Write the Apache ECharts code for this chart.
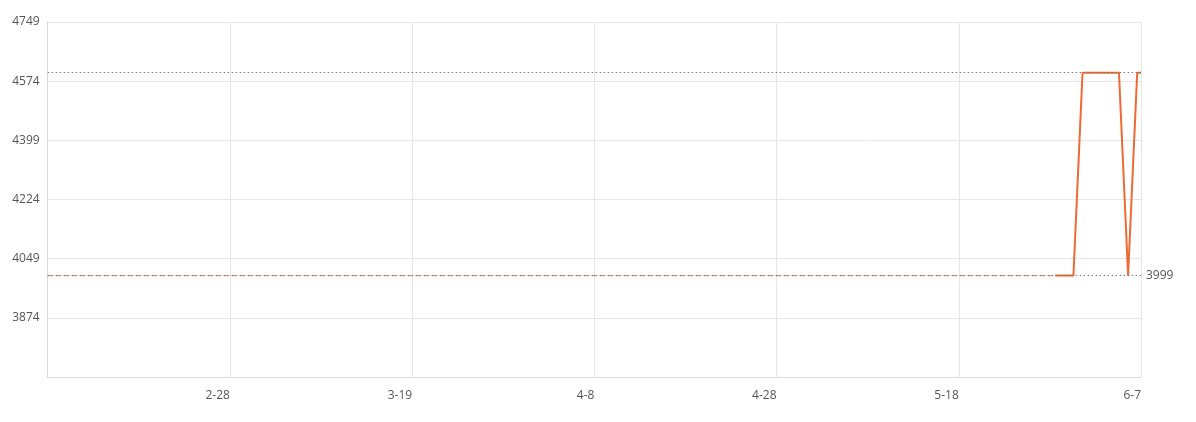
<!DOCTYPE html>
<html>
<head>
<meta charset="utf-8">
<script src="https://cdn.jsdelivr.net/npm/echarts@6/dist/echarts.min.js"></script>
<style>html,body{margin:0;padding:0;background:#fff;}#c{width:1196px;height:422px;}</style>
</head>
<body>
<div id="c"></div>
<script>
// Data
const axisStart = '2024-02-08 00:00';
const axisEnd = '2024-06-07 00:00';
const tickDays = 20;
const yMin = 3699, yMax = 4749, yStep = 175;

const dashDates = ['2024-02-08 00:00', '2024-05-28 14:00'];
const dashValues = [3999, 3999];

const priceDates = ['2024-05-28 14:00', '2024-05-30 14:00', '2024-05-31 14:00', '2024-06-04 14:00', '2024-06-05 14:00', '2024-06-06 14:00', '2024-06-07 00:00'];
const priceValues = [3999, 3999, 4599, 4599, 3999, 4599, 4599];

const lowPrice = 3999, highPrice = 4599;

function ts(s) {
  const [d, t] = s.split(' ');
  const [y, m, dd] = d.split('-').map(Number);
  const [h, mi] = t.split(':').map(Number);
  return Date.UTC(y, m - 1, dd, h, mi);
}
function pairs(dates, vals) { return dates.map((d, i) => [ts(d), vals[i]]); }

const chart = echarts.init(document.getElementById('c'));
const textColor = '#555';
const font = 'Open Sans, sans-serif';
chart.setOption({
  animation: false,
  grid: { left: 47.7, right: 55, top: 22, bottom: 45 },
  xAxis: {
    type: 'value',
    min: ts(axisStart), max: ts(axisEnd), interval: tickDays * 86400000,
    axisLine: { lineStyle: { color: '#d9d9d9' } },
    axisTick: { show: false },
    splitLine: { show: true, lineStyle: { color: '#e6e6e6' } },
    axisLabel: {
      showMinLabel: false, align: 'right', color: textColor, fontSize: 12, margin: 13,
      fontFamily: font,
      formatter: v => { const d = new Date(v); return (d.getUTCMonth() + 1) + '-' + d.getUTCDate(); }
    }
  },
  yAxis: {
    type: 'value', min: yMin, max: yMax, interval: yStep,
    axisLine: { show: true, lineStyle: { color: '#d9d9d9' } },
    axisTick: { show: false },
    splitLine: { lineStyle: { color: '#e6e6e6' } },
    axisLabel: { showMinLabel: false, color: textColor, fontSize: 12, margin: 8, fontFamily: font, formatter: v => String(v) }
  },
  series: [
    {
      type: 'line', data: pairs(priceDates, priceValues), symbol: 'none', z: 3,
      lineStyle: { color: '#ee6a34', width: 2 },
      markLine: {
        silent: true, symbol: 'none',
        lineStyle: { color: '#777', type: [1.5, 2.5], width: 1 },
        data: [
          { yAxis: lowPrice, label: { show: true, position: 'end', distance: 5, color: textColor, fontSize: 12, fontFamily: font, formatter: '{c}' } },
          { yAxis: highPrice, label: { show: false } }
        ]
      }
    },
    {
      type: 'line', data: pairs(dashDates, dashValues), symbol: 'none', z: 4,
      lineStyle: { color: '#ee6a34', width: 1.2, type: [5, 3], opacity: 0.75 }
    }
  ]
});
</script>
</body>
</html>
